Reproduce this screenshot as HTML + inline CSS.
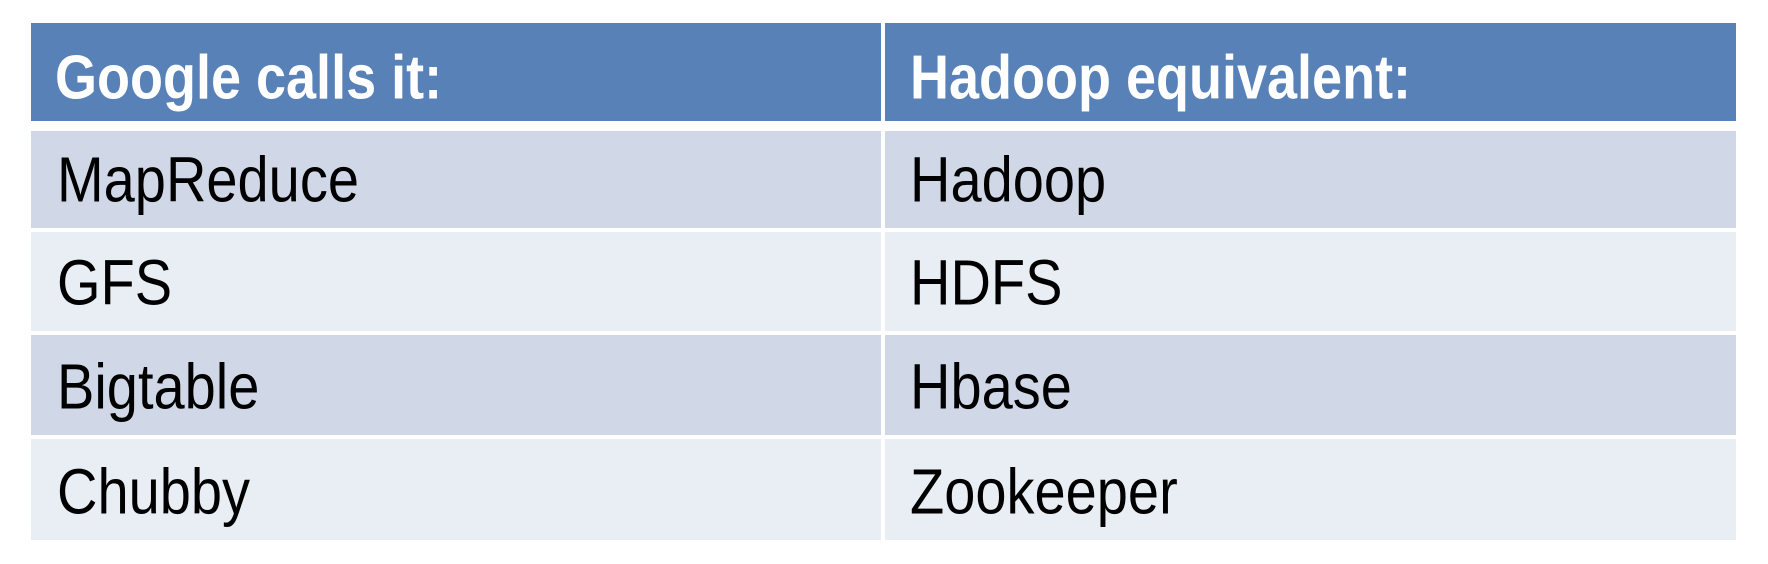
<!DOCTYPE html>
<html><head><style>
body{margin:0;width:1768px;height:564px;background:#fff;position:relative;overflow:hidden;font-family:"Liberation Sans",sans-serif}
.c{position:absolute;box-sizing:border-box}
.t{position:absolute;white-space:nowrap;line-height:1;transform:scaleY(1.15);transform-origin:0 80%}
.h{background:#5881b8;color:#fff;font-weight:bold;font-size:54px}
.a{background:#d0d8e8}.b{background:#e9edf4}
.r{font-size:56px;color:#000}
</style></head><body>
<div class="c h" style="left:31px;top:23px;width:850px;height:98px"></div>
<div class="c h" style="left:885px;top:23px;width:851px;height:98px"></div>
<div class="c a" style="left:31px;top:131px;width:850px;height:97px"></div>
<div class="c a" style="left:885px;top:131px;width:851px;height:97px"></div>
<div class="c b" style="left:31px;top:232px;width:850px;height:99px"></div>
<div class="c b" style="left:885px;top:232px;width:851px;height:99px"></div>
<div class="c a" style="left:31px;top:335px;width:850px;height:100px"></div>
<div class="c a" style="left:885px;top:335px;width:851px;height:100px"></div>
<div class="c b" style="left:31px;top:439px;width:850px;height:101px"></div>
<div class="c b" style="left:885px;top:439px;width:851px;height:101px"></div>

<div class="t h" style="left:55px;top:53px;background:none">Google calls it:</div>
<div class="t h" style="left:910px;top:53px;background:none">Hadoop equivalent:</div>
<div class="t r" style="left:57px;top:154px">MapReduce</div>
<div class="t r" style="left:910px;top:154px">Hadoop</div>
<div class="t r" style="left:57px;top:257px">GFS</div>
<div class="t r" style="left:910px;top:257px">HDFS</div>
<div class="t r" style="left:57px;top:361px">Bigtable</div>
<div class="t r" style="left:910px;top:361px">Hbase</div>
<div class="t r" style="left:57px;top:466px">Chubby</div>
<div class="t r" style="left:910px;top:466px">Zookeeper</div>
</body></html>
